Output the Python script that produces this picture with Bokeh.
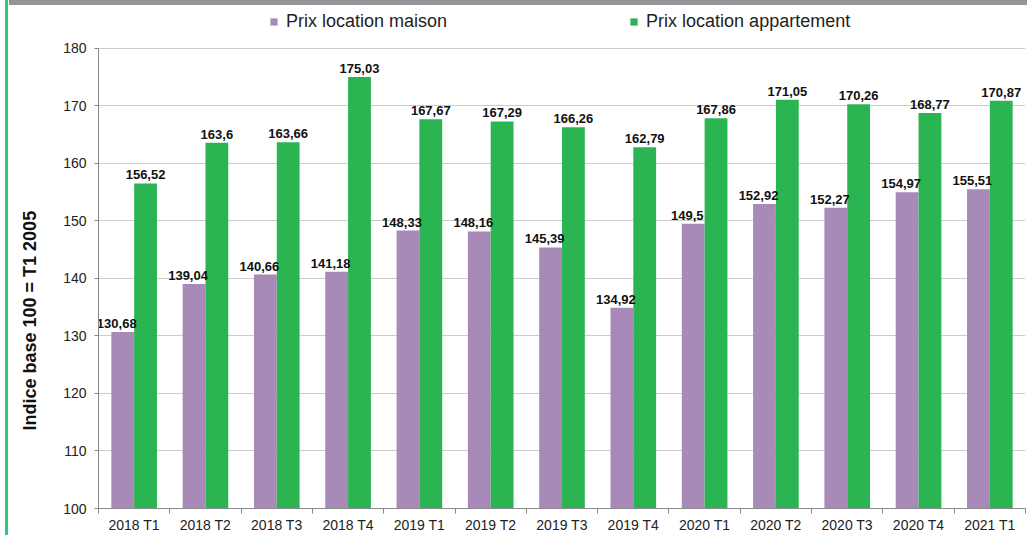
from bokeh.plotting import figure
from bokeh.models import Range1d, FixedTicker, Legend, LegendItem, Title, ColumnDataSource
from bokeh.core.properties import value
from bokeh.embed import file_html
from bokeh.resources import INLINE

categories = ["2018 T1", "2018 T2", "2018 T3", "2018 T4", "2019 T1", "2019 T2", "2019 T3",
              "2019 T4", "2020 T1", "2020 T2", "2020 T3", "2020 T4", "2021 T1"]
maison = [130.68, 139.04, 140.66, 141.18, 148.33, 148.16, 145.39, 134.92, 149.5, 152.92,
          152.27, 154.97, 155.51]
appartement = [156.52, 163.6, 163.66, 175.03, 167.67, 167.29, 166.26, 162.79, 167.86, 171.05,
               170.26, 168.77, 170.87]
y_ticks = [100, 110, 120, 130, 140, 150, 160, 170, 180]

PURPLE = "#a78ab7"
GREEN = "#2bb452"
FONT = "Liberation Sans"

n = len(categories)
pos = [i + 1 for i in range(n)]
bw = 0.32

# layout (pixels): frame spans from y=6 to y=510; the value axis 100..180 occupies 48..510
W, H = 1027, 535
TOP, BOTTOM = 6, 25
AXIS_TOP = 48
y0, y1 = y_ticks[0], y_ticks[-1]
frame_h = H - TOP - BOTTOM
axis_h = H - BOTTOM - AXIS_TOP
y_end = y0 + (y1 - y0) * frame_h / axis_h

src_m = ColumnDataSource(dict(x=[p_ - bw / 2 for p_ in pos], top=maison,
                              lab=[str(v).replace(".", ",") for v in maison]))
src_a = ColumnDataSource(dict(x=[p_ + bw / 2 for p_ in pos], top=appartement,
                              lab=[str(v).replace(".", ",") for v in appartement]))

p = figure(width=W, height=H, output_backend="svg", toolbar_location=None,
           x_range=Range1d(0.5, n + 0.5), y_range=Range1d(y0, y_end),
           min_border_left=97, min_border_right=2, min_border_top=TOP,
           min_border_bottom=BOTTOM)
p.styles = {"background": "linear-gradient(#939598,#939598) 9px 0/100% 5px no-repeat, "
                          "linear-gradient(#2dc97a,#2dc97a) 5px 0/3px 100% no-repeat, #ffffff"}
p.outline_line_color = None
p.background_fill_color = "white"
p.border_fill_alpha = 0

rm = p.vbar(x="x", top="top", bottom=y0, width=bw, source=src_m, fill_color=PURPLE,
            line_color=None)
ra = p.vbar(x="x", top="top", bottom=y0, width=bw, source=src_a, fill_color=GREEN,
            line_color=None)

p.text(x="x", y="top", text="lab", source=src_m, text_align="center", text_baseline="bottom",
       x_offset=-6, y_offset=-4, text_font=value(FONT), text_font_style="bold",
       text_font_size="13px", text_color="#111111")
p.text(x="x", y="top", text="lab", source=src_a, text_align="center", text_baseline="bottom",
       y_offset=-4, text_font=value(FONT), text_font_style="bold",
       text_font_size="13px", text_color="#111111")

# axes
p.xaxis.ticker = FixedTicker(ticks=pos, minor_ticks=[i + 0.5 for i in range(n + 1)])
p.xaxis.major_label_overrides = {p_: c for p_, c in zip(pos, categories)}
p.xaxis.major_tick_out = 0
p.xaxis.major_tick_in = 0
p.xaxis.minor_tick_out = 5
p.xaxis.minor_tick_in = 0
p.xaxis.minor_tick_line_color = "#888888"
p.xaxis.axis_line_color = "#888888"
p.xaxis.major_label_standoff = 3
p.xaxis.major_label_text_font = FONT
p.xaxis.major_label_text_font_size = "14px"
p.xaxis.major_label_text_color = "#222222"

p.yaxis.ticker = FixedTicker(ticks=y_ticks, minor_ticks=[])
p.yaxis.bounds = (y0, y1)
p.yaxis.major_tick_out = 4
p.yaxis.major_tick_in = 0
p.yaxis.major_tick_line_color = "#888888"
p.yaxis.axis_line_color = "#888888"
p.yaxis.major_label_standoff = 8
p.yaxis.major_label_text_font = FONT
p.yaxis.major_label_text_font_size = "14px"
p.yaxis.major_label_text_color = "#222222"

p.xgrid.grid_line_color = None
p.ygrid.grid_line_color = "#cccccc"
p.ygrid.grid_line_width = 1

yt = Title(text="Indice base 100 = T1 2005", align="left", vertical_align="top",
           offset=78, standoff=38,
           text_font=FONT, text_font_size="18px", text_font_style="bold",
           text_color="#111111")
p.add_layout(yt, "left")

legend = Legend(items=[LegendItem(label="Prix location maison", renderers=[rm]),
                       LegendItem(label="Prix location appartement", renderers=[ra])],
                orientation="horizontal", location=(171, 476), padding=0, margin=0,
                spacing=182, glyph_width=9, glyph_height=9, label_standoff=8,
                label_text_font=FONT, label_text_font_size="18px",
                label_text_color="#222222", border_line_color=None,
                background_fill_alpha=0)
p.add_layout(legend, "center")

open("out.html", "w").write(file_html(p, INLINE))
